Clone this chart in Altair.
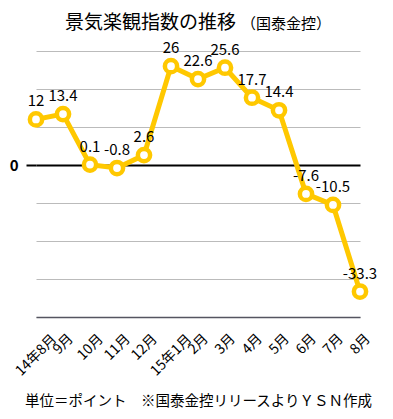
import altair as alt
import pandas as pd

months = ["14年8月", "9月", "10月", "11月", "12月", "15年1月", "2月", "3月",
          "4月", "5月", "6月", "7月", "8月"]
values = [12, 13.4, 0.1, -0.8, 2.6, 26, 22.6, 25.6, 17.7, 14.4, -7.6, -10.5, -33.3]
labels = ["12", "13.4", "0.1", "-0.8", "2.6", "26", "22.6", "25.6", "17.7", "14.4",
          "-7.6", "-10.5", "-33.3"]
y_ticks = [-40, -30, -20, -10, 0, 10, 20, 30]
title_main = "景気楽観指数の推移"
title_sub = "（国泰金控）"
footer = "単位＝ポイント　※国泰金控リリースよりＹＳＮ作成"

df = pd.DataFrame({"month": months, "value": values, "label": labels})

FONT = "Noto Sans CJK JP"
YELLOW = "#FFC800"

x = alt.X("month:N", sort=None,
          scale=alt.Scale(type="point", padding=0),
          axis=alt.Axis(title=footer,
                        titleFont=FONT, titleFontSize=14.5, titleFontWeight="normal",
                        titleColor="black", titleY=88, titleBaseline="alphabetic",
                        labelAngle=-45, labelAlign="center", labelBaseline="middle",
                        labelFont=FONT, labelFontSize=14, labelColor="black",
                        labelPadding={"condition": [
                            {"test": "length(datum.label) >= 5", "value": 38},
                            {"test": "length(datum.label) == 3", "value": 30}],
                            "value": 27},
                        labelOverlap=False,
                        ticks=False, tickSize=0,
                        domainColor="#555560", domainWidth=1.5,
                        grid=False))
y = alt.Y("value:Q",
          scale=alt.Scale(domain=[-40, 30], nice=False, zero=False),
          axis=alt.Axis(title=None, values=y_ticks,
                        labelExpr="datum.value === 0 ? '0' : ''",
                        labelFont=FONT, labelFontSize=15, labelFontWeight="bold",
                        labelColor="black", labelPadding=8,
                        tickSize=10, tickWidth=2,
                        tickColor={"condition": {"test": "datum.value === 0", "value": "black"},
                                   "value": "transparent"},
                        gridColor={"condition": {"test": "datum.value === 0", "value": "black"},
                                   "value": "#BBBBBB"},
                        gridWidth={"condition": {"test": "datum.value === 0", "value": 2},
                                   "value": 1},
                        domain=False))

base = alt.Chart(df).encode(x=x, y=y)

line = base.mark_line(color=YELLOW, strokeWidth=5)
pts = base.mark_point(shape="circle", filled=True, fill="white", stroke=YELLOW,
                      strokeWidth=4.5, size=150, opacity=1)
txt = base.mark_text(font=FONT, fontSize=15, dy=-13, baseline="alphabetic",
                     color="black").encode(text="label:N")

ttl = alt.Chart(pd.DataFrame({"t": [title_main]})).mark_text(
    font=FONT, fontSize=19, align="left", baseline="alphabetic", color="black"
).encode(x=alt.value(29), y=alt.value(-22), text="t:N")

sub = alt.Chart(pd.DataFrame({"t": [title_sub]})).mark_text(
    font=FONT, fontSize=15, align="left", baseline="alphabetic", color="black"
).encode(x=alt.value(205), y=alt.value(-22), text="t:N")

chart = alt.layer(line, pts, txt, ttl, sub).properties(
    width=324, height=266,
    autosize=alt.AutoSizeParams(type="none"),
    padding={"left": 28, "top": 43, "right": 25, "bottom": 94},
).configure_view(stroke=None)

chart.save("out.html", embed_options={"renderer": "svg", "actions": False})
